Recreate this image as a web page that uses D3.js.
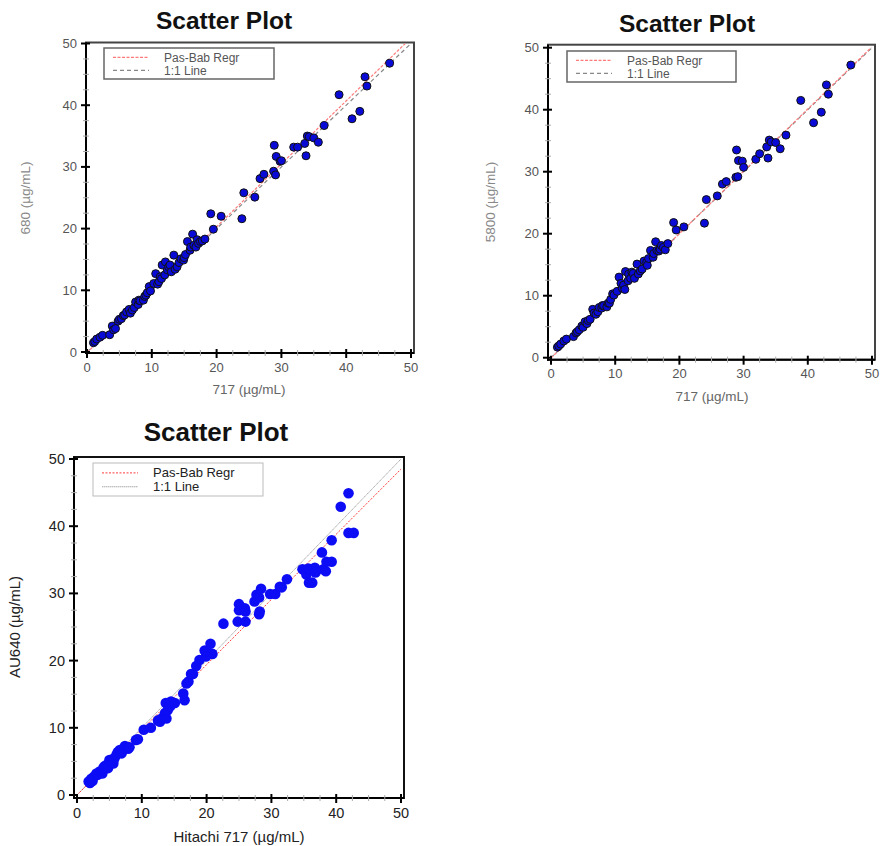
<!DOCTYPE html>
<html>
<head>
<meta charset="utf-8">
<script src="https://cdn.jsdelivr.net/npm/d3@7"></script>
<style>
  body { margin: 0; background: #fff; }
  svg { display: block; font-family: Arial, "Liberation Sans", sans-serif; }
</style>
</head>
<body>
<svg width="881" height="846"></svg>
<script>
// --- Data: Hitachi 717 vs 680 / 5800 (same reference values) ---
const x717 = [1.0, 1.2, 1.5, 2.0, 2.4, 3.5, 3.9, 4.1, 4.4, 4.8, 5.0, 5.3, 5.6, 5.8, 6.1,
  6.5, 6.7, 7.0, 7.3, 7.5, 7.9, 8.0, 8.2, 8.7, 8.9, 9.1, 9.3, 9.6, 9.8, 10.3,
  10.6, 10.9, 11.1, 11.3, 11.5, 11.6, 12.0, 12.1, 12.4, 12.6, 12.8, 13.0, 13.4, 13.6, 13.9,
  14.2, 14.5, 14.9, 15.0, 15.2, 15.5, 15.9, 16.0, 16.3, 16.5, 16.8, 17.0, 17.2, 17.5, 17.8,
  18.2, 19.1, 19.5, 20.7, 23.9, 24.2, 25.9, 26.7, 27.3, 28.8, 28.9, 29.1, 29.2, 29.8, 30.0,
  31.9, 32.5, 33.6, 33.8, 34.0, 34.3, 35.0, 35.7, 36.6, 38.9, 40.9, 42.1, 42.9, 43.2, 46.7];

const y680 = [1.5, 1.7, 2.1, 2.4, 2.7, 2.8, 4.2, 3.6, 3.8, 5.0, 5.3, 5.4, 5.9, 6.0, 6.5,
  6.9, 6.3, 6.8, 7.2, 8.1, 7.7, 8.4, 8.3, 8.4, 9.0, 9.2, 9.6, 10.6, 9.9, 11.1,
  12.7, 11.0, 11.4, 12.2, 11.9, 14.1, 12.5, 14.6, 13.3, 13.8, 14.1, 13.0, 15.7, 13.4, 13.8,
  14.5, 15.1, 14.9, 15.3, 15.8, 17.9, 16.5, 17.0, 19.1, 17.3, 17.0, 18.2, 17.6, 17.9, 18.0,
  18.3, 22.4, 19.9, 22.0, 21.6, 25.8, 25.1, 28.1, 28.8, 29.3, 33.5, 28.7, 31.7, 30.9, 31.0,
  33.2, 33.2, 33.8, 31.8, 35.0, 34.9, 34.7, 34.0, 36.7, 41.7, 37.8, 39.0, 44.6, 43.1, 46.8];

const y5800 = [1.7, 1.9, 2.2, 2.7, 3.0, 3.4, 4.0, 4.2, 4.5, 5.1, 4.9, 5.8, 5.5, 6.0, 6.2,
  7.8, 7.2, 7.0, 7.4, 8.1, 8.0, 8.4, 8.4, 8.2, 8.8, 8.8, 9.4, 10.3, 10.1, 10.7,
  13.0, 12.0, 11.2, 11.7, 11.0, 13.9, 12.4, 13.5, 12.8, 13.8, 13.6, 12.8, 15.1, 13.5, 14.0,
  14.3, 15.6, 15.4, 14.9, 16.0, 17.3, 16.2, 16.8, 18.7, 17.3, 17.2, 17.5, 18.1, 17.8, 17.4,
  18.4, 21.8, 20.6, 21.1, 21.7, 25.5, 26.1, 28.0, 28.4, 29.1, 33.5, 29.2, 31.8, 31.7, 30.7,
  32.0, 32.9, 34.0, 32.2, 35.1, 34.8, 34.7, 33.7, 35.9, 41.5, 37.9, 39.6, 44.0, 42.5, 47.2];

// --- Data: Hitachi 717 vs AU640 ---
const xHitachi = [1.8, 2.0, 2.2, 2.4, 2.6, 3.0, 3.2, 3.5, 3.9, 4.0, 4.1, 4.3, 4.6, 4.8, 5.0,
  5.2, 5.3, 5.5, 5.6, 5.6, 5.8, 6.1, 6.3, 6.6, 6.9, 7.4, 7.6, 7.9, 8.1, 9.1,
  9.4, 10.3, 11.4, 12.5, 12.8, 13.2, 13.6, 13.7, 13.8, 14.0, 14.4, 14.5, 15.1, 16.4, 16.6,
  16.9, 17.2, 17.6, 17.9, 18.4, 18.9, 19.7, 19.9, 20.0, 20.6, 20.9, 22.6, 24.8, 25.0, 25.0,
  25.9, 26.0, 26.0, 27.4, 27.7, 28.1, 28.1, 28.2, 28.4, 29.8, 30.6, 31.3, 31.6, 32.4, 34.8,
  35.4, 35.7, 35.8, 36.3, 36.7, 36.8, 37.8, 38.0, 38.4, 38.5, 39.3, 39.3, 40.7, 41.9, 41.9, 42.7];

const yAU640 = [2.0, 1.8, 2.4, 2.1, 2.7, 3.2, 3.0, 3.5, 3.2, 3.6, 4.1, 4.3, 4.5, 4.0, 5.2,
  5.0, 4.8, 5.3, 5.1, 4.7, 5.5, 6.0, 6.4, 6.7, 6.2, 7.3, 7.1, 6.9, 7.1, 8.2,
  8.3, 9.7, 10.0, 11.1, 10.9, 11.5, 12.2, 13.7, 11.4, 12.6, 13.2, 13.9, 13.7, 15.1, 14.1,
  16.6, 16.9, 18.0, 18.0, 19.2, 20.1, 21.5, 20.6, 21.4, 22.5, 21.0, 25.5, 25.8, 28.4, 27.5,
  27.8, 27.3, 25.8, 28.8, 29.8, 29.4, 26.9, 27.3, 30.7, 29.9, 29.9, 31.0, 30.9, 32.1, 33.6,
  32.8, 33.7, 31.6, 31.6, 33.8, 33.1, 36.1, 33.6, 33.3, 34.7, 34.7, 37.9, 42.9, 44.9, 39.0, 39.0];

// Passing-Bablok fits (slope, intercept)
const pbSlope = [1.02, 1.004, 0.97];
const pbIntercept = [-0.1, -0.05, 0.0];

const legendLabels = ["Pas-Bab Regr", "1:1 Line"];
const tickValues = [0, 10, 20, 30, 40, 50];
const minorTicks = d3.range(0, 50.01, 2.5).filter(v => v % 10 !== 0);

const svg = d3.select("svg");

// --- Panel layouts ---
const panels = [
  { xs: x717, ys: y680, xr: [87, 411], yr: [352, 43.5], pad: [1, 3, 1, 1],
    title: [224, 29, 24.5], xlab: "717 (µg/mL)", ylab: "680 (µg/mL)",
    xlabPos: [249, 394], ylabPos: [25, 198], labSize: 13.5, labColor: "#666", ylabColor: "#888",
    tickSize: 13, tickColor: "#555", tickGap: 20,
    legend: [104, 48, 170, 31], legSize: 12, legColor: "#555", legBorder: "#666", legStroke: 1.5,
    frame: "#444", dot: { r: 4, fill: "#0a0ad6", stroke: "#111" },
    red: { c: "#ff7a7a", dash: "3,1.5", w: 1.2 }, gray: { c: "#888", dash: "4,3", w: 1.2 }, k: 0 },
  { xs: x717, ys: y5800, xr: [551, 872], yr: [357.7, 47.7], pad: [3, 3, 3, 2],
    title: [687, 32, 24.5], xlab: "717 (µg/mL)", ylab: "5800 (µg/mL)",
    xlabPos: [712, 401], ylabPos: [490, 202], labSize: 13.5, labColor: "#666", ylabColor: "#888",
    tickSize: 13, tickColor: "#555", tickGap: 20,
    legend: [567, 51, 169, 31], legSize: 12, legColor: "#555", legBorder: "#666", legStroke: 1.5,
    frame: "#444", dot: { r: 4, fill: "#0a0ad6", stroke: "#111" },
    red: { c: "#ff7a7a", dash: "3,1.5", w: 1.2 }, gray: { c: "#888", dash: "4,3", w: 1.2 }, k: 1 },
  { xs: xHitachi, ys: yAU640, xr: [77, 401], yr: [795, 459], pad: [3, 3, 2, 3],
    title: [216, 441, 26], xlab: "Hitachi 717 (µg/mL)", ylab: "AU640 (µg/mL)",
    xlabPos: [239, 842], ylabPos: [15, 627], labSize: 15, labColor: "#222", ylabColor: "#222",
    tickSize: 14.5, tickColor: "#222", tickGap: 23,
    legend: [93, 463, 170, 33], legSize: 13, legColor: "#222", legBorder: "#bbb", legStroke: 1,
    frame: "#111", dot: { r: 5.3, fill: "#0c0cf5", stroke: "none" },
    red: { c: "#ff3b3b", dash: "2,1.5", w: 1 }, gray: { c: "#aaa", dash: "1.5,0.5", w: 1 }, k: 2 }
];

panels.forEach(drawPanel);

function drawPanel(p, i) {
  const x = d3.scaleLinear().domain([0, 50]).range(p.xr);
  const y = d3.scaleLinear().domain([0, 50]).range(p.yr);
  const g = svg.append("g");
  const [pl, pr, pt, pb] = p.pad;
  const left = x(0) - pl, right = x(50) + pr, top = y(50) - pt, bottom = y(0) + pb;

  // title
  g.append("text")
    .attr("x", p.title[0]).attr("y", p.title[1])
    .attr("text-anchor", "middle")
    .attr("font-size", p.title[2] + "px").attr("font-weight", "bold")
    .attr("fill", "#111")
    .text("Scatter Plot");

  // frame (top / right)
  g.append("rect")
    .attr("x", left).attr("y", top)
    .attr("width", right - left).attr("height", bottom - top)
    .attr("fill", "#fff").attr("stroke", p.frame).attr("stroke-width", 2);

  // clip for fit lines
  const clipId = "clip" + i;
  svg.append("defs").append("clipPath").attr("id", clipId)
    .append("rect").attr("x", x(0)).attr("y", y(50))
    .attr("width", x(50) - x(0)).attr("height", y(0) - y(50));

  const line = d3.line().x(d => x(d[0])).y(d => y(d[1]));
  const s = pbSlope[p.k], b = pbIntercept[p.k];

  g.append("path")
    .attr("d", line([[0, 0], [50, 50]]))
    .attr("clip-path", `url(#${clipId})`)
    .attr("fill", "none").attr("stroke", p.gray.c)
    .attr("stroke-width", p.gray.w).attr("stroke-dasharray", p.gray.dash);

  g.append("path")
    .attr("d", line([[0, b], [50, 50 * s + b]]))
    .attr("clip-path", `url(#${clipId})`)
    .attr("fill", "none").attr("stroke", p.red.c)
    .attr("stroke-width", p.red.w).attr("stroke-dasharray", p.red.dash);

  // points
  g.append("g").selectAll("circle")
    .data(p.xs.map((v, j) => [v, p.ys[j]]))
    .enter().append("circle")
      .attr("cx", d => x(d[0]))
      .attr("cy", d => y(d[1]))
      .attr("r", p.dot.r)
      .attr("fill", p.dot.fill)
      .attr("stroke", p.dot.stroke)
      .attr("stroke-width", 1);

  // axis lines
  g.append("line").attr("x1", left).attr("x2", left).attr("y1", top).attr("y2", bottom + 1)
    .attr("stroke", "#000").attr("stroke-width", 2);
  g.append("line").attr("x1", left - 1).attr("x2", right).attr("y1", bottom).attr("y2", bottom)
    .attr("stroke", "#000").attr("stroke-width", 2);

  // minor ticks
  minorTicks.forEach(v => {
    g.append("line").attr("x1", x(v)).attr("x2", x(v)).attr("y1", bottom - 3).attr("y2", bottom + 3)
      .attr("stroke", "#aaa").attr("stroke-width", 1);
    g.append("line").attr("x1", left - 3).attr("x2", left + 3).attr("y1", y(v)).attr("y2", y(v))
      .attr("stroke", "#aaa").attr("stroke-width", 1);
  });

  // major ticks + labels
  tickValues.forEach(v => {
    g.append("line").attr("x1", x(v)).attr("x2", x(v)).attr("y1", bottom - 4).attr("y2", bottom + 5)
      .attr("stroke", "#000").attr("stroke-width", 2);
    g.append("line").attr("x1", left - 5).attr("x2", left + 4).attr("y1", y(v)).attr("y2", y(v))
      .attr("stroke", "#000").attr("stroke-width", 2);
    g.append("text")
      .attr("x", x(v)).attr("y", y(0) + p.tickGap)
      .attr("text-anchor", "middle")
      .attr("font-size", p.tickSize + "px").attr("fill", p.tickColor)
      .text(v);
    g.append("text")
      .attr("x", left - 9).attr("y", y(v)).attr("dy", "0.35em")
      .attr("text-anchor", "end")
      .attr("font-size", p.tickSize + "px").attr("fill", p.tickColor)
      .text(v);
  });

  // axis titles
  g.append("text")
    .attr("x", p.xlabPos[0]).attr("y", p.xlabPos[1])
    .attr("text-anchor", "middle")
    .attr("font-size", p.labSize + "px").attr("fill", p.labColor)
    .text(p.xlab);
  g.append("text")
    .attr("transform", `translate(${p.ylabPos[0]},${p.ylabPos[1]}) rotate(-90)`)
    .attr("text-anchor", "middle").attr("dy", "0.35em")
    .attr("font-size", p.labSize + "px").attr("fill", p.ylabColor)
    .text(p.ylab);

  // legend
  const [lx, ly, lw, lh] = p.legend;
  const leg = g.append("g");
  leg.append("rect")
    .attr("x", lx).attr("y", ly).attr("width", lw).attr("height", lh)
    .attr("fill", "#fff").attr("stroke", p.legBorder).attr("stroke-width", p.legStroke);
  const styles = [p.red, p.gray];
  legendLabels.forEach((lab, j) => {
    const yy = ly + lh * (j === 0 ? 0.3 : 0.72);
    leg.append("line")
      .attr("x1", lx + 9).attr("x2", lx + 45).attr("y1", yy).attr("y2", yy)
      .attr("stroke", styles[j].c).attr("stroke-width", styles[j].w)
      .attr("stroke-dasharray", styles[j].dash);
    leg.append("text")
      .attr("x", lx + 60).attr("y", yy).attr("dy", "0.35em")
      .attr("font-size", p.legSize + "px").attr("fill", p.legColor)
      .text(lab);
  });
}
</script>
</body>
</html>
